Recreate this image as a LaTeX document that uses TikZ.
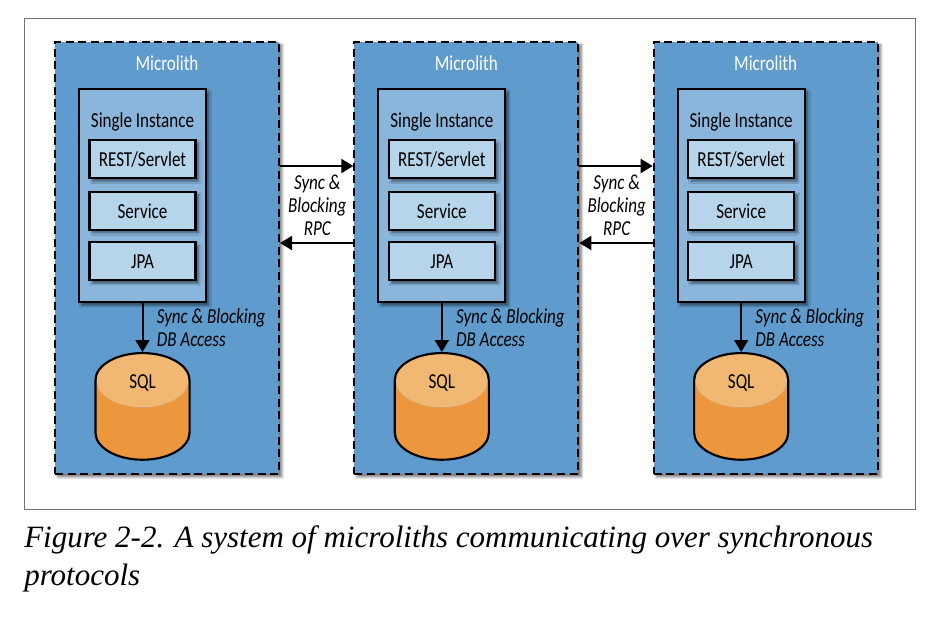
\documentclass[tikz,border=0pt]{standalone}
\usepackage{fontspec}
\setmainfont[FakeStretch=0.8]{Carlito}
\newfontfamily\capfont{Liberation Serif}
\usetikzlibrary{arrows.meta, positioning, shadows.blur, shapes.geometric}
\definecolor{mblue}{HTML}{5F9BCC}
\definecolor{sblue}{HTML}{8AB6DC}
\definecolor{lblue}{HTML}{B6D4EA}
\definecolor{dborange}{HTML}{EC963E}
\definecolor{dbtop}{HTML}{F0B872}
\tikzset{
  softshadow/.style={blur shadow={shadow xshift=2.2pt, shadow yshift=-2.2pt, shadow blur radius=2pt, shadow blur steps=6, shadow opacity=55}},
  microlith/.style={rectangle, draw=black, fill=mblue, line width=1.5pt, dash pattern=on 6pt off 3.5pt, minimum width=168pt, minimum height=324pt, softshadow},
  single/.style={rectangle, draw=black, fill=sblue, line width=1.5pt, minimum width=95.25pt, minimum height=160pt, softshadow},
  layer/.style={rectangle, draw=black, fill=lblue, line width=1.7pt, minimum width=79.5pt, minimum height=28.5pt, inner sep=0pt, font=\fontsize{16}{18}\selectfont, softshadow},
  db/.style={cylinder, shape border rotate=90, shape aspect=3.4, line width=1.6pt, minimum width=69pt, minimum height=80pt, cylinder uses custom fill, cylinder body fill=dborange, cylinder end fill=dbtop, inner sep=6pt},
  dbline/.style={line width=1.6pt, line join=round},
  lbl/.style={inner sep=0pt, font=\fontsize{16}{18}\selectfont},
  talk/.style={align=center, inner sep=0pt, font=\fontsize{16}{17.25}\selectfont\itshape},
  link/.style={line width=1.5pt, -{Triangle[length=9pt, width=10.5pt]}}
}
\newcommand{\dbedge}[1]{\draw[dbline] (#1.before top) arc[start angle=180, end angle=0, x radius=35.3pt, y radius=20.4pt] -- (#1.before bottom) arc[start angle=0, end angle=-180, x radius=35.3pt, y radius=20.4pt] -- cycle;}
\begin{document}
\begin{tikzpicture}[x=0.75pt, y=-0.75pt]
  \useasboundingbox (0,0) rectangle (936,626);
  \node[rectangle, draw=black!55, line width=0.6pt, minimum width=668.25pt, minimum height=368.25pt](frame) at (469.5,263.5){};
  % microliths
  \node[microlith](m1) at (167,258){};
  \node[microlith, right=55pt of m1](m2){};
  \node[microlith, right=55pt of m2](m3){};
  \node[lbl, white, below=11pt of m1.north](mt1){Microlith};
  \node[lbl, white, below=11pt of m2.north](mt2){Microlith};
  \node[lbl, white, below=11pt of m3.north](mt3){Microlith};
  \node[single, below right=35.25pt and 18pt of m1.north west](si1){};
  \node[single, below right=35.25pt and 18pt of m2.north west](si2){};
  \node[single, below right=35.25pt and 18pt of m3.north west](si3){};
  \node[lbl, below=18pt of si1.north](st1){Single Instance};
  \node[lbl, below=18pt of si2.north](st2){Single Instance};
  \node[lbl, below=18pt of si3.north](st3){Single Instance};
  % layers
  \node[layer, below=38.25pt of si1.north](rest1){REST/Servlet};
  \node[layer, below=8.5pt of rest1](svc1){Service};
  \node[layer, below=7.75pt of svc1](jpa1){JPA};
  \node[layer, below=38.25pt of si2.north](rest2){REST/Servlet};
  \node[layer, below=8.5pt of rest2](svc2){Service};
  \node[layer, below=7.75pt of svc2](jpa2){JPA};
  \node[layer, below=38.25pt of si3.north](rest3){REST/Servlet};
  \node[layer, below=8.5pt of rest3](svc3){Service};
  \node[layer, below=7.75pt of svc3](jpa3){JPA};
  % databases
  \node[db, below=36.5pt of si1.south, label={[lbl, yshift=34pt]center:SQL}](sql1){};
  \node[db, below=36.5pt of si2.south, label={[lbl, yshift=34pt]center:SQL}](sql2){};
  \node[db, below=36.5pt of si3.south, label={[lbl, yshift=34pt]center:SQL}](sql3){};
  \dbedge{sql1}
  \dbedge{sql2}
  \dbedge{sql3}
  \draw[link] (si1) -- (sql1);
  \draw[link] (si2) -- (sql2);
  \draw[link] (si3) -- (sql3);
  \node[talk, align=left, below right=4pt and 10.5pt of si1.south](da1){Sync \& Blocking\\DB Access};
  \node[talk, align=left, below right=4pt and 10.5pt of si2.south](da2){Sync \& Blocking\\DB Access};
  \node[talk, align=left, below right=4pt and 10.5pt of si3.south](da3){Sync \& Blocking\\DB Access};
  % rpc
  \node[talk, right=28pt of m1.east, anchor=center, yshift=39.75pt](rpc1){Sync \&\\Blocking\\RPC};
  \node[talk, right=28pt of m2.east, anchor=center, yshift=39.75pt](rpc2){Sync \&\\Blocking\\RPC};
  \draw[link] ([yshift=69pt]m1.east) -- ([yshift=69pt]m2.west);
  \draw[link] ([yshift=11.25pt]m2.west) -- ([yshift=11.25pt]m1.east);
  \draw[link] ([yshift=69pt]m2.east) -- ([yshift=69pt]m3.west);
  \draw[link] ([yshift=11.25pt]m3.west) -- ([yshift=11.25pt]m2.east);
  % caption
  \node[anchor=north west, align=left, inner sep=0pt, font=\capfont\fontsize{23.25}{28.5}\selectfont\itshape](cap) at (24,525){Figure 2-2. A system of microliths communicating over synchronous\\protocols};
\end{tikzpicture}
\end{document}
